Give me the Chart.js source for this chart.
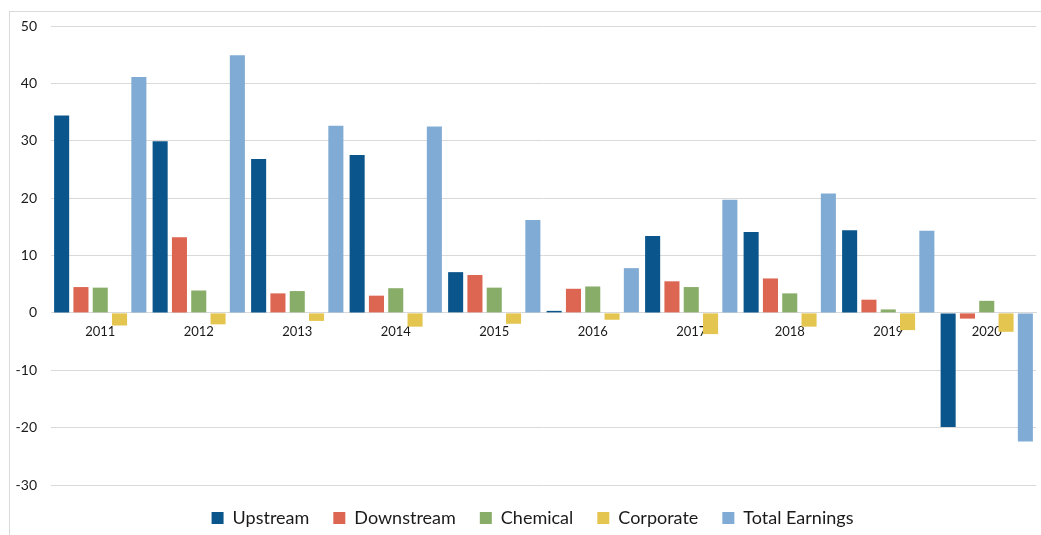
<!DOCTYPE html>
<html>
<head>
<meta charset="utf-8">
<script src="https://cdn.jsdelivr.net/npm/chart.js@4.4.0/dist/chart.umd.min.js"></script>
<style>
  html, body { margin: 0; padding: 0; background: #fff; width: 1041px; height: 535px; overflow: hidden; position: relative; }
  #frame { position: absolute; left: 9px; top: 11px; width: 1100px; height: 600px; border: 1px solid #d9d9d9; box-sizing: border-box; }
  #wrap { position: absolute; left: 0; top: 0; width: 1041px; height: 537px; }
</style>
</head>
<body>
<div id="frame"></div>
<div id="wrap"><canvas id="c"></canvas></div>
<script>
const categories = ['2011','2012','2013','2014','2015','2016','2017','2018','2019','2020'];
const upstream   = [34.4, 29.9, 26.8, 27.5, 7.1, 0.35, 13.4, 14.1, 14.4, -19.9];
const downstream = [4.5, 13.2, 3.4, 3.0, 6.6, 4.2, 5.5, 6.0, 2.3, -1.0];
const chemical   = [4.4, 3.9, 3.8, 4.3, 4.4, 4.6, 4.5, 3.4, 0.6, 2.1];
const corporate  = [-2.2, -2.0, -1.4, -2.4, -1.9, -1.2, -3.7, -2.4, -3.0, -3.3];
const totalEarnings = [41.1, 44.9, 32.6, 32.5, 16.2, 7.8, 19.7, 20.8, 14.3, -22.4];
const yTicks = [50, 40, 30, 20, 10, 0, -10, -20, -30];

const fontFamily = 'Lato, "Open Sans", sans-serif';
function ds(label, data, color) {
  return {
    label, data,
    backgroundColor: color,
    borderWidth: 0,
    categoryPercentage: 0.98,
    barPercentage: 0.78
  };
}

const shiftLegend = {
  id: 'shiftLegend',
  afterLayout(chart) {
    const lg = chart.legend;
    if (lg) { lg.left += 9; lg.right += 9; }
  }
};

new Chart(document.getElementById('c'), {
  type: 'bar',
  data: {
    labels: categories,
    datasets: [
      ds('Upstream', upstream, '#0a568c'),
      ds('Downstream', downstream, '#dc6651'),
      ds('Chemical', chemical, '#88ad69'),
      ds('Corporate', corporate, '#e4c550'),
      ds('Total Earnings', totalEarnings, '#80abd4')
    ]
  },
  plugins: [shiftLegend],
  options: {
    responsive: true,
    maintainAspectRatio: false,
    animation: false,
    layout: { padding: { left: 11, right: 5, top: 26, bottom: 0 } },
    plugins: {
      legend: {
        position: 'bottom',
        labels: {
          boxWidth: 12, boxHeight: 12,
          padding: 24,
          color: '#1a1a1a',
          font: { family: fontFamily, size: 18 }
        }
      },
      tooltip: { enabled: false },
      title: { display: false }
    },
    scales: {
      x: {
        position: { y: 0 },
        grid: { display: false, drawTicks: false },
        border: { display: true, color: '#d9d9d9', width: 1 },
        ticks: { padding: 11, color: '#1a1a1a', font: { family: fontFamily, size: 13 } }
      },
      y: {
        min: -30, max: 50,
        afterFit: (s) => { s.width = 40; },
        afterBuildTicks: (s) => { s.ticks = yTicks.map(v => ({ value: v })); },
        grid: { color: '#d9d9d9', drawTicks: false },
        border: { display: false },
        ticks: { padding: 14, color: '#1a1a1a', font: { family: fontFamily, size: 14 } }
      }
    }
  }
});
</script>
</body>
</html>
